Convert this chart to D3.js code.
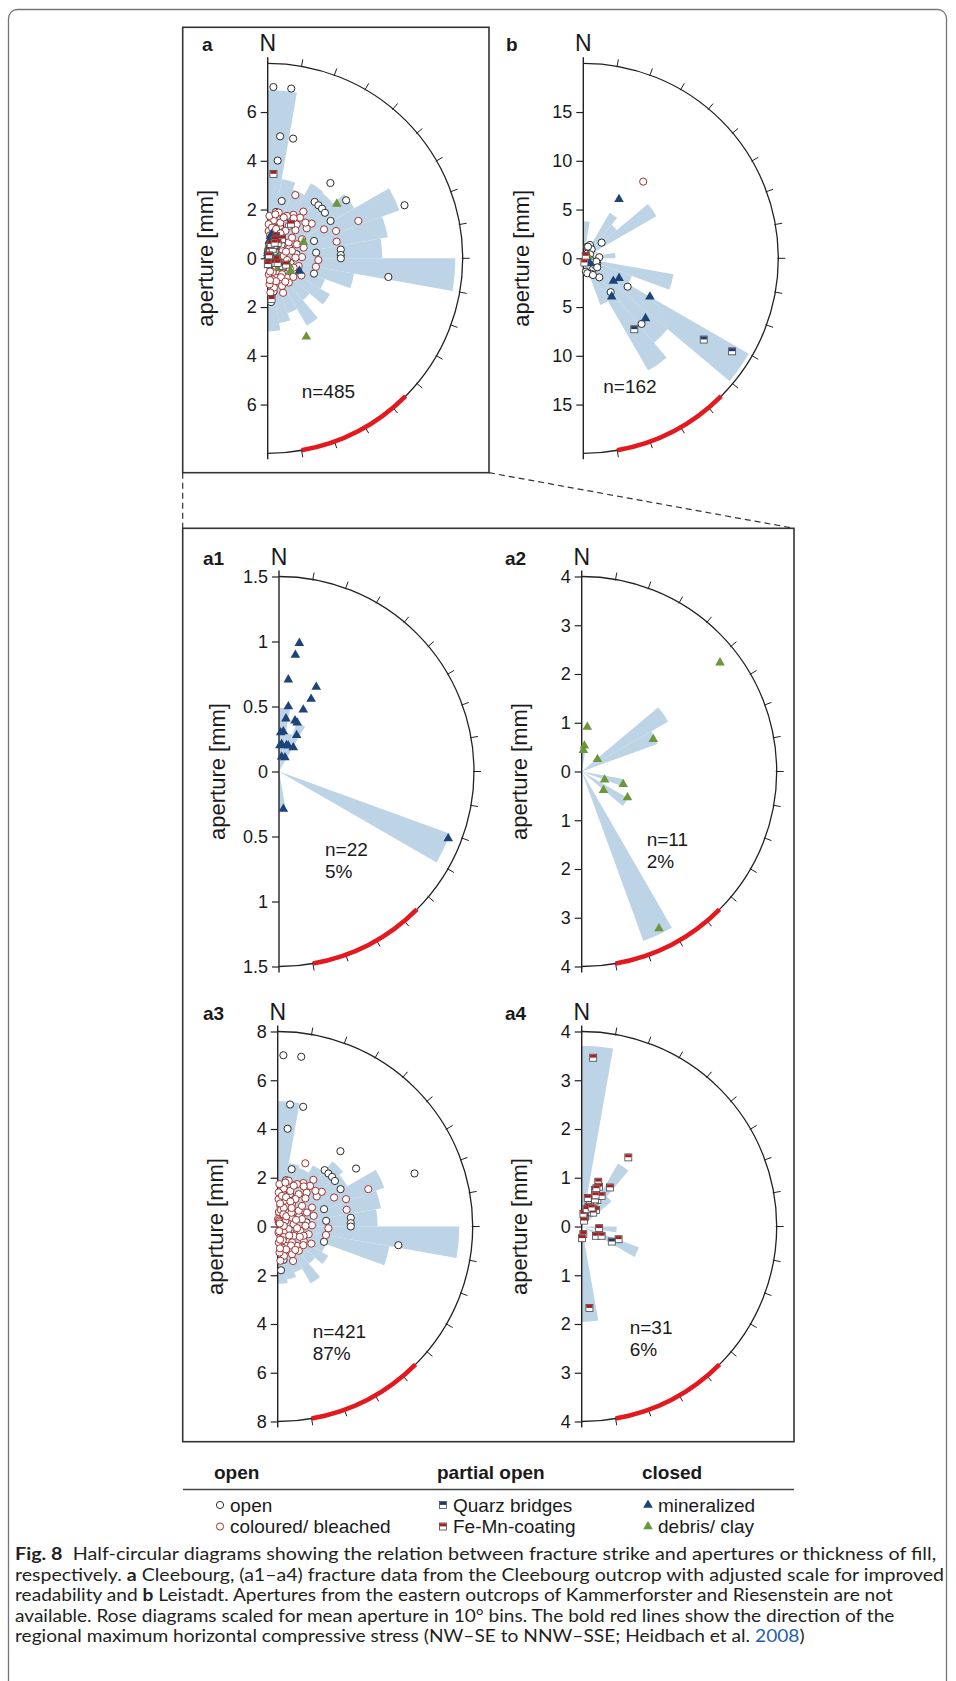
<!DOCTYPE html>
<html>
<head>
<meta charset="utf-8">
<script src="https://cdn.jsdelivr.net/npm/d3@7"></script>
<style>
  body { margin: 0; background: #fff; }
  text { font-family: "Liberation Sans", Arial, sans-serif; fill: #1a1a1a; }
  .caption text { font-family: Lato, "Open Sans", sans-serif; fill: #231f20; }
</style>
</head>
<body>
<svg id="fig" width="956" height="1681"></svg>
<script>
'use strict';

/* 10° strike bins (start of each bin) */
const BIN_STARTS = [0, 10, 20, 30, 40, 50, 60, 70, 80, 90, 100, 110, 120, 130, 140, 150, 160, 170];
const ARC_TICKS = [10, 20, 30, 40, 50, 60, 70, 80, 90, 100, 110, 120, 130, 140, 150, 160, 170];
const SHMAX = [135, 170];   // NW–SE to NNW–SSE

/* mean aperture per bin [mm] */
const roseA  = [6.9, 3.3, 3.0, 3.55, 3.5, 4.1, 5.75, 5.0, 4.7, 7.7, 3.6, 2.5, 2.95, 2.25, 3.2, 2.4, 2.7, 3.0];
const roseB  = [3.8, 1.2, 1.6, 5.4, 4.5, 8.65, 1.5, 1.0, 3.3, 1.0, 9.4, 5.3, 19.6, 11.3, 13.3, 5.1, 1.2, 1.4];
const roseA1 = [0.49, 0.3, 0.4, 0, 0, 0, 0, 0, 0, 0, 0, 1.4, 0, 0, 0, 0, 0, 0.3];
const roseA2 = [0.5, 0, 0, 0, 0, 2.05, 1.65, 0, 0, 0, 0.88, 0, 1.1, 0, 0, 3.7, 0, 0];
const roseA3 = [5.15, 2.65, 2.55, 2.9, 3.5, 3.3, 4.65, 4.3, 4.1, 7.45, 4.65, 2.1, 2.4, 2.0, 2.7, 2.0, 2.2, 2.35];
const roseA4 = [3.71, 0, 0, 1.49, 0.8, 0, 0, 0, 0, 0.72, 0, 1.25, 0, 0, 0, 0, 0, 1.96];

/* fractures: [strike °, aperture mm] — Cleebourg */
const cleebourgOpen = [
  [1.9, 7.03], [7.9, 7.03], [5.8, 5.03], [12, 5.02], [5.8, 4.03], [39.8, 4.02], [13.7, 2.42], [53.5, 4.0],
  [68.8, 6.02], [10.2, 1.93], [39.8, 3.01], [43.7, 3.01], [47.6, 3.02], [51.5, 3.0], [59.3, 3.0], [10.3, 1.53],
  [20.9, 1.42], [69.5, 2.03], [83.3, 2.0], [108.3, 2.0], [83.2, 3.02], [87.4, 3.0], [90, 3.0], [98.8, 5.01],
  [175.6, 1.8], [170, 1.39], [82, 1.2], [110, 0.9], [64, 0.98], [9.5, 1.0], [107, 0.83]
];
const cleebourgColoured = [
  [23.6, 2.83], [67.6, 4.02], [68.2, 3.02], [76.4, 2.91], [62.8, 2.6], [92, 2.08], [100, 2.01], [37.4, 2.41],
  [51.8, 2.3], [52.4, 2.02], [38.5, 2.13], [30.6, 2.07], [24.2, 1.9], [40.5, 1.83], [24.5, 1.91], [33, 1.96],
  [46.6, 2.13], [9, 1.58], [19.5, 1.55], [33, 1.58], [44.6, 1.62], [61, 1.61], [73.5, 1.54], [88, 1.41],
  [104, 1.31], [119, 1.22], [135, 1.12], [152, 1.13], [168, 1.23], [175.5, 1.41], [176, 1.07], [152.6, 1.28],
  [139, 1.32], [147, 0.7], [120, 0.76], [101, 0.95], [73, 1.04], [53, 1.08], [32.7, 1.09], [16.6, 1.1],
  [7, 0.86], [33.7, 0.69], [58, 0.69], [82, 0.66], [103.6, 0.46], [135, 0.35], [164, 0.4], [30.6, 0.35],
  [7.7, 0.51], [53.5, 0.39], [14, 0.17], [84, 0.25], [19, 0.46], [28, 0.96], [32.9, 1.34], [49.7, 1.31],
  [64.5, 1.33], [88.6, 1.14], [109.7, 1.13], [158, 0.85], [168, 0.88], [138, 0.88], [176, 0.66], [2, 1.12],
  [1.7, 1.4], [8, 1.27], [21.5, 1.8], [13.5, 1.93], [2.3, 1.74], [9.9, 1.83], [3, 0.3], [5, 0.6],
  [11, 0.7], [18, 0.8], [25, 0.55], [40, 0.55], [45, 0.8], [12, 0.25], [22, 0.2], [35, 0.15],
  [6, 0.95], [16, 1.25], [27, 1.15], [37, 0.95], [150, 0.5], [160, 0.6], [170, 0.55], [172, 0.25],
  [162, 0.2], [145, 0.95], [128, 0.6], [115, 1.0], [95, 0.8], [70, 0.8], [160, 1.0], [174, 0.9],
  [143, 1.2], [126, 1.3], [117, 1.55], [156, 1.55]
];
const cleebourgMineralized = [
  [9, 1.0], [8, 0.905], [5.8, 0.71], [23.8, 0.71], [23.9, 0.61], [8.2, 0.505], [21.5, 0.51], [7.5, 0.41],
  [17.5, 0.41], [20.5, 0.4], [6.2, 0.31], [26, 0.31], [5.6, 0.21], [16, 0.21], [20, 0.21], [30.8, 0.215],
  [10, 0.115], [23, 0.117], [173.4, 0.29], [111.6, 1.4], [2.5, 0.3], [2, 0.2]
];
const cleebourgDebris = [
  [51.8, 3.61], [7.2, 0.92], [5.9, 0.53], [4.5, 0.44], [52, 0.41], [65.7, 1.61], [110, 0.5], [107, 0.89],
  [130.7, 0.59], [119.5, 1.08], [153.8, 3.59]
];
const cleebourgFeMn = [
  [3.9, 3.47], [34, 1.71], [20.3, 0.98], [23.6, 0.89], [20, 0.8], [36, 0.99], [30.7, 0.63], [26, 0.55],
  [18.7, 0.53], [18.7, 0.43], [41, 0.45], [39.8, 0.37], [19.7, 0.31], [19, 0.21], [7.7, 0.26], [95.4, 0.36],
  [123, 0.35], [115, 0.45], [109, 0.8], [168, 0.16], [179, 0.24], [174.6, 1.68], [16, 0.37], [27.8, 0.44],
  [26, 0.62], [22, 0.13], [21, 0.84], [12, 0.6], [33, 0.75], [24, 0.7]
];
const cleebourgQuarz = [[116.6, 0.69]];

/* Leistadt */
const leistadtOpen = [
  [49.5, 2.47], [26.6, 1.53], [42.8, 1.26], [86, 1.64], [110, 1.52], [135, 1.45], [140, 2.55], [152, 1.82],
  [122.6, 5.4], [141, 4.47], [138.4, 9.0], [40, 0.65], [169, 1.4], [120, 1.38], [19, 1.26], [22, 1.29],
  [104, 1.37], [123, 1.7], [165, 1.59], [150, 1.98], [60, 0.8], [100, 0.7]
];
const leistadtColoured = [[38, 9.98]];
const leistadtMineralized = [[31.2, 7.07], [127, 0.85], [127, 3.86], [119, 4.2], [143.5, 4.89], [120, 7.89], [134, 8.87]];
const leistadtQuarz = [[144.3, 8.96], [124, 14.9], [122, 18.0]];
const leistadtFeMn = [[45, 0.35], [165, 0.45]];
const leistadtDebris = [[75, 0.55], [150, 0.4]];

const WEDGE = '#bcd4e6';
const RED = '#e3191f';
const COL = {
  open: '#2b2b2b', coloured: '#a13232', mineral: '#1c4478', debris: '#6b963a',
  quarz: '#1f3a6b', femn: '#a81f22'
};
const R = 195;

const svg = d3.select('#fig');

// outer figure frame
svg.append('rect')
  .attr('x', 8.5).attr('y', 9.5).attr('width', 938).attr('height', 1700).attr('rx', 9)
  .attr('fill', 'none').attr('stroke', '#767676').attr('stroke-width', 1.3);

// panel a frame, zoom frame and dashed connectors
svg.append('rect')
  .attr('x', 182.7).attr('y', 27.3).attr('width', 306.3).attr('height', 445.4)
  .attr('fill', 'none').attr('stroke', '#333').attr('stroke-width', 1.6);
svg.append('rect')
  .attr('x', 182.7).attr('y', 528.3).attr('width', 611.3).attr('height', 913.4)
  .attr('fill', 'none').attr('stroke', '#333').attr('stroke-width', 1.6);
svg.append('path')
  .attr('d', 'M182.7,472.7V528.3M489,472.7L794,528.3')
  .attr('fill', 'none').attr('stroke', '#333').attr('stroke-width', 1.2).attr('stroke-dasharray', '6,4');

/* markers */
function marker(g, kind, x, y) {
  if (kind === 'open' || kind === 'coloured') {
    g.append('circle').attr('cx', x).attr('cy', y).attr('r', 3.6)
      .attr('fill', '#fff').attr('stroke', COL[kind]).attr('stroke-width', 1);
  } else if (kind === 'mineral' || kind === 'debris') {
    g.append('path').attr('d', d3.symbol(d3.symbolTriangle, 40)())
      .attr('transform', `translate(${x},${y})`).attr('fill', COL[kind]);
  } else {
    g.append('rect').attr('x', x - 3.5).attr('y', y - 3.5).attr('width', 7).attr('height', 7)
      .attr('fill', '#fff').attr('stroke', '#444').attr('stroke-width', 0.8);
    g.append('rect').attr('x', x - 3.1).attr('y', y - 3.1).attr('width', 6.2).attr('height', 3)
      .attr('fill', COL[kind]);
  }
}

const PANELS = [
  { label: 'a', lx: 202, cx: 267.7, cy: 258.3, max: 8, ticks: [-6, -4, -2, 0, 2, 4, 6], rose: roseA,
    sets: [['open', cleebourgOpen], ['coloured', cleebourgColoured], ['debris', cleebourgDebris],
           ['mineral', cleebourgMineralized], ['quarz', cleebourgQuarz], ['femn', cleebourgFeMn]],
    note: ['n=485'], nx: 34, ny: 140 },
  { label: 'b', lx: 506, cx: 583.3, cy: 258.3, max: 20, ticks: [-15, -10, -5, 0, 5, 10, 15], rose: roseB,
    sets: [['open', leistadtOpen], ['coloured', leistadtColoured], ['debris', leistadtDebris],
           ['mineral', leistadtMineralized], ['quarz', leistadtQuarz], ['femn', leistadtFeMn]],
    note: ['n=162'], nx: 20, ny: 135 },
  { label: 'a1', lx: 203, cx: 279, cy: 771.5, max: 1.5, ticks: [-1.5, -1, -0.5, 0, 0.5, 1, 1.5], rose: roseA1,
    sets: [['mineral', cleebourgMineralized]], note: ['n=22', '5%'], nx: 46, ny: 84 },
  { label: 'a2', lx: 505, cx: 581.7, cy: 771.5, max: 4, ticks: [-4, -3, -2, -1, 0, 1, 2, 3, 4], rose: roseA2,
    sets: [['debris', cleebourgDebris]], note: ['n=11', '2%'], nx: 65, ny: 74 },
  { label: 'a3', lx: 203, cx: 277.7, cy: 1226.5, max: 8, ticks: [-8, -6, -4, -2, 0, 2, 4, 6, 8], rose: roseA3,
    sets: [['open', cleebourgOpen], ['coloured', cleebourgColoured]], note: ['n=421', '87%'], nx: 35, ny: 111 },
  { label: 'a4', lx: 505, cx: 581.7, cy: 1226.5, max: 4, ticks: [-4, -3, -2, -1, 0, 1, 2, 3, 4], rose: roseA4,
    sets: [['femn', cleebourgFeMn], ['quarz', cleebourgQuarz]], note: ['n=31', '6%'], nx: 48, ny: 107 }
];

function drawPanel(p) {
  const g = svg.append('g').attr('transform', `translate(${p.cx},${p.cy})`);
  const rs = d3.scaleLinear().domain([0, p.max]).range([0, R]);
  const ang = d3.scaleLinear().domain([0, 180]).range([0, Math.PI]);

  // rose wedges
  const wedge = d3.arc().innerRadius(0)
    .outerRadius(d => rs(d.v))
    .startAngle(d => ang(d.s))
    .endAngle(d => ang(d.s + 10));
  g.append('g').selectAll('path')
    .data(BIN_STARTS.map((s, i) => ({ s, v: p.rose[i] })).filter(d => d.v > 0))
    .join('path')
      .attr('d', wedge)
      .attr('fill', WEDGE);

  // half circle + ticks
  const outline = d3.path();
  outline.moveTo(0, -R);
  outline.arc(0, 0, R, -Math.PI / 2, Math.PI / 2);
  g.append('path').attr('d', outline.toString())
    .attr('fill', 'none').attr('stroke', '#222').attr('stroke-width', 1.3);

  g.append('g').selectAll('line')
    .data(ARC_TICKS)
    .join('line')
      .attr('x1', d => d3.pointRadial(ang(d), R - 1)[0])
      .attr('y1', d => d3.pointRadial(ang(d), R - 1)[1])
      .attr('x2', d => d3.pointRadial(ang(d), R + 7)[0])
      .attr('y2', d => d3.pointRadial(ang(d), R + 7)[1])
      .attr('stroke', '#222').attr('stroke-width', 1);

  // regional SHmax
  const red = d3.path();
  red.arc(0, 0, R, ang(SHMAX[0]) - Math.PI / 2, ang(SHMAX[1]) - Math.PI / 2);
  g.append('path').attr('d', red.toString())
    .attr('fill', 'none').attr('stroke', RED).attr('stroke-width', 4.5);

  // aperture axis
  const ys = d3.scaleLinear().domain([-p.max, p.max]).range([R, -R]);
  const axis = g.append('g')
    .call(d3.axisLeft(ys).tickValues(p.ticks).tickFormat(d => Math.abs(d)).tickSize(7).tickPadding(4));
  axis.select('.domain').remove();
  axis.selectAll('line').attr('stroke', '#222').attr('stroke-width', 1.2);
  axis.selectAll('text')
    .attr('fill', '#1a1a1a')
    .style('font-family', '"Liberation Sans", Arial, sans-serif')
    .style('font-size', '18px');
  g.append('line').attr('x1', 0).attr('x2', 0).attr('y1', -R - 6).attr('y2', R + 6)
    .attr('stroke', '#222').attr('stroke-width', 1.4);

  // fractures
  const pts = g.append('g');
  for (const [kind, data] of p.sets) {
    for (const d of data) {
      const [x, y] = d3.pointRadial(ang(d[0]), rs(d[1]));
      marker(pts, kind, x, y);
    }
  }

  // texts
  g.append('text').attr('x', 0).attr('y', -R - 12).attr('text-anchor', 'middle')
    .style('font-size', '23px').text('N');
  svg.append('text').attr('x', p.lx).attr('y', p.cy - R - 12)
    .style('font-size', '19px').style('font-weight', 'bold').text(p.label);
  g.append('text')
    .attr('transform', 'translate(-62,0) rotate(-90)')
    .attr('text-anchor', 'middle').attr('dominant-baseline', 'central')
    .style('font-size', '22px').text('aperture [mm]');
  p.note.forEach((t, i) => {
    g.append('text').attr('x', p.nx).attr('y', p.ny + i * 22)
      .style('font-size', '19px').text(t);
  });
}

PANELS.forEach(drawPanel);

/* legend */
const LEGEND_HEADERS = ['open', 'partial open', 'closed'];
const LEGEND_ITEMS = [
  [['open', 'open'], ['coloured', 'coloured/ bleached']],
  [['quarz', 'Quarz bridges'], ['femn', 'Fe-Mn-coating']],
  [['mineral', 'mineralized'], ['debris', 'debris/ clay']]
];
const legendX = [214, 437, 642];
const leg = svg.append('g');
leg.append('line').attr('x1', 183).attr('x2', 794).attr('y1', 1489.5).attr('y2', 1489.5)
  .attr('stroke', '#444').attr('stroke-width', 1.5);
LEGEND_HEADERS.forEach((h, i) => {
  leg.append('text').attr('x', legendX[i]).attr('y', 1479)
    .style('font-size', '19px').style('font-weight', 'bold').text(h);
  LEGEND_ITEMS[i].forEach(([kind, label], j) => {
    const yc = 1505 + j * 21.5;
    marker(leg, kind, legendX[i] + 6, yc);
    leg.append('text').attr('x', legendX[i] + 16).attr('y', yc + 6.5)
      .style('font-size', '19px').text(label);
  });
});

/* caption */
const CAPTION = [
  [['Fig. 8', 'b'], ['  Half-circular diagrams showing the relation between fracture strike and apertures or thickness of fill,']],
  [['respectively. '], ['a', 'b'], [' Cleebourg, (a1–a4) fracture data from the Cleebourg outcrop with adjusted scale for improved']],
  [['readability and '], ['b', 'b'], [' Leistadt. Apertures from the eastern outcrops of Kammerforster and Riesenstein are not']],
  [['available. Rose diagrams scaled for mean aperture in 10° bins. The bold red lines show the direction of the']],
  [['regional maximum horizontal compressive stress (NW–SE to NNW–SSE; Heidbach et al. '], ['2008', 'link'], [')']]
];
const CAPTION_WIDTHS = [922, 930, 878, 880, 790];
const cap = svg.append('g').attr('class', 'caption');
CAPTION.forEach((line, i) => {
  const t = cap.append('text').attr('x', 0).attr('y', 0)
    .style('font-size', '17px').style('white-space', 'pre').attr('xml:space', 'preserve');
  for (const [txt, style] of line) {
    const s = t.append('tspan').text(txt);
    if (style === 'b') s.style('font-weight', 'bold');
    if (style === 'link') s.style('fill', '#1f5fae');
  }
  const w = t.node().getComputedTextLength();
  t.attr('transform', `translate(15,${1560 + i * 20.6}) scale(${CAPTION_WIDTHS[i] / w},1)`);
});
</script>
</body>
</html>
